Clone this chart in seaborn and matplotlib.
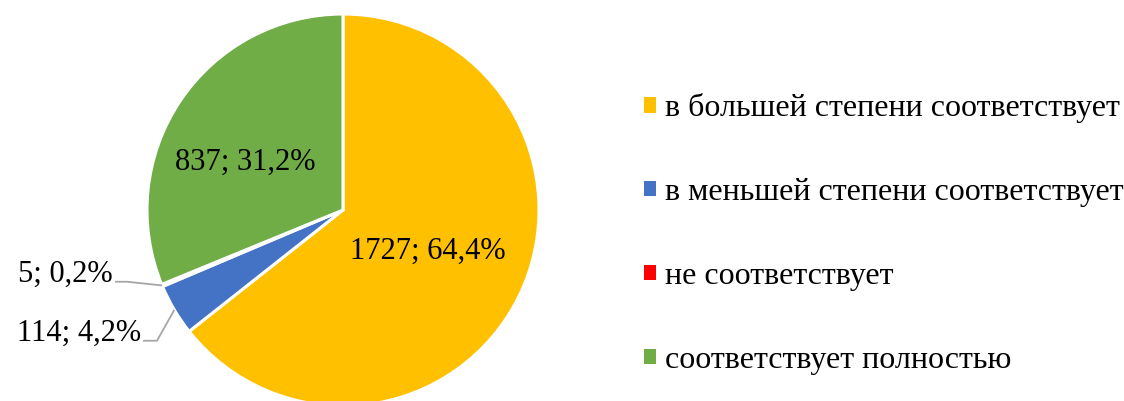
import numpy as np
import seaborn as sns
import matplotlib.pyplot as plt

categories = ["в большей степени соответствует",
              "в меньшей степени соответствует",
              "не соответствует",
              "соответствует полностью"]
counts = [1727, 114, 5, 837]
pct_labels = ["64,4%", "4,2%", "0,2%", "31,2%"]
colors = ["#FFC000", "#4472C4", "#FF0000", "#70AD47"]

sns.set_theme(style="white")
plt.rcParams["font.family"] = ["Liberation Serif", "DejaVu Serif"]
plt.rcParams["text.color"] = "black"

fig = plt.figure(figsize=(11.24, 4.01), dpi=100)
ax = fig.add_axes([147 / 1124, -5 / 401, 392 / 1124, 392 / 401])

wedges, _ = ax.pie(counts, colors=colors, startangle=90, counterclock=False,
                   radius=1, wedgeprops=dict(edgecolor="white", linewidth=2.2))
ax.set_xlim(-1, 1)
ax.set_ylim(-1, 1)
ax.axis("off")

fs = 22
texts = [f"{c}; {p}" for c, p in zip(counts, pct_labels)]

def mid(w):
    return np.deg2rad((w.theta1 + w.theta2) / 2)

# inside labels (radius, angle shift in degrees)
for i, r, shift in [(0, 0.48, 0), (3, 0.555, 8)]:
    a = mid(wedges[i]) + np.deg2rad(shift)
    ax.text(r * np.cos(a), r * np.sin(a), texts[i], ha="center", va="center",
            fontsize=fs, color="black")

# outside labels with leader lines
for i, (tx, ty, kx) in [(2, (-1.173, -0.326, -1.102)), (1, (-1.03, -0.627, -0.949))]:
    a = mid(wedges[i])
    ex, ey = np.cos(a), np.sin(a)
    ly = ty - 0.04
    ax.plot([tx + 0.01, kx, ex], [ly, ly, ey], color="#A6A6A6", lw=1.3,
            clip_on=False, solid_capstyle="butt")
    ax.text(tx, ty, texts[i], ha="right", va="center", fontsize=fs,
            color="black", clip_on=False)

leg = fig.legend(wedges, categories, loc="center left",
                 bbox_to_anchor=(615 / 1124, 1 - 234 / 401), frameon=False,
                 fontsize=23, handlelength=0.38, handleheight=0.38,
                 handletextpad=0.3, labelspacing=1.72)
for h in leg.legend_handles:
    h.set_edgecolor("none")
for t in leg.get_texts():
    t.set_color("black")

fig.savefig("out.png", dpi=100)
